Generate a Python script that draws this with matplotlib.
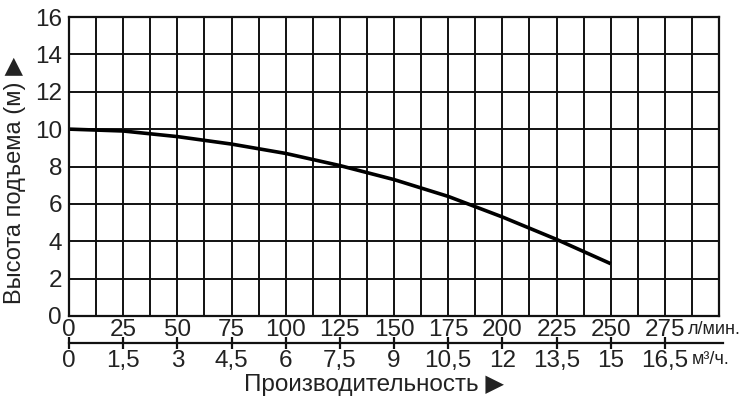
import matplotlib.pyplot as plt
import numpy as np

# расход (л/мин) и напор (м)
flow_lmin = [0, 25, 50, 75, 100, 125, 150, 175, 200, 225, 250]
head_m = [10.0, 9.9, 9.6, 9.2, 8.7, 8.05, 7.3, 6.4, 5.3, 4.1, 2.8]

lmin_ticks = [0, 25, 50, 75, 100, 125, 150, 175, 200, 225, 250, 275]
m3h_labels = ['0', '1,5', '3', '4,5', '6', '7,5', '9', '10,5', '12', '13,5', '15', '16,5']
y_ticks = [0, 2, 4, 6, 8, 10, 12, 14, 16]

plt.rcParams['font.family'] = ['Liberation Sans', 'DejaVu Sans']
fs = 17.5
tc = '#222222'

W, H = 750, 399
fig = plt.figure(figsize=(7.5, 3.99), dpi=100)
ax = fig.add_axes([69 / W, (H - 316) / H, 650 / W, 299 / H])

ax.plot(flow_lmin, head_m, color='black', lw=2.6, solid_capstyle='butt')

ax.set_xlim(0, 300)
ax.set_ylim(0, 16)
ax.set_xticks(lmin_ticks)
ax.set_xticks(np.arange(12.5, 300, 25), minor=True)
ax.set_yticks(y_ticks)
ax.grid(True, which='both', color='#111111', lw=1.4)
for s in ax.spines.values():
    s.set_color('#111111')
    s.set_linewidth(1.6)
ax.tick_params(which='both', length=0, labelsize=fs, colors=tc)
ax.tick_params(axis='x', pad=2.5)
ax.tick_params(axis='y', pad=5)

# вторая шкала (м³/ч)
ax2 = fig.add_axes([69 / W, 0.01, 654 / W, (H - 343) / H - 0.01])
ax2.set_xlim(0, 300 * 654 / 650)
ax2.set_ylim(0, 1)
for k in ['left', 'right', 'bottom']:
    ax2.spines[k].set_visible(False)
ax2.spines['top'].set_linewidth(1.6)
ax2.spines['top'].set_color('#111111')
ax2.set_yticks([])
ax2.set_xticks(lmin_ticks)
ax2.xaxis.set_ticks_position('top')
ax2.tick_params(axis='x', direction='inout', length=8, width=1.6,
                labeltop=False, labelbottom=False, colors='#111111')
ax2.patch.set_alpha(0)
for x, lab in zip(lmin_ticks, m3h_labels):
    ax2.text(x, 0.86, lab, ha='center', va='top', fontsize=fs, color=tc)

fig.text(15 / W, (H - 180) / H, 'Высота подъема (м) ▶', fontsize=17, color=tc,
         rotation=90, ha='center', va='center')
fig.text(688 / W, (H - 329) / H, 'л/мин.', fontsize=13, color=tc, va='center')
fig.text(692 / W, (H - 359) / H, 'м³/ч.', fontsize=13, color=tc, va='center')
fig.text(374 / W, (H - 385) / H, 'Производительность ▶', fontsize=fs,
         color=tc, ha='center', va='center')

plt.savefig('out.png', dpi=100)
